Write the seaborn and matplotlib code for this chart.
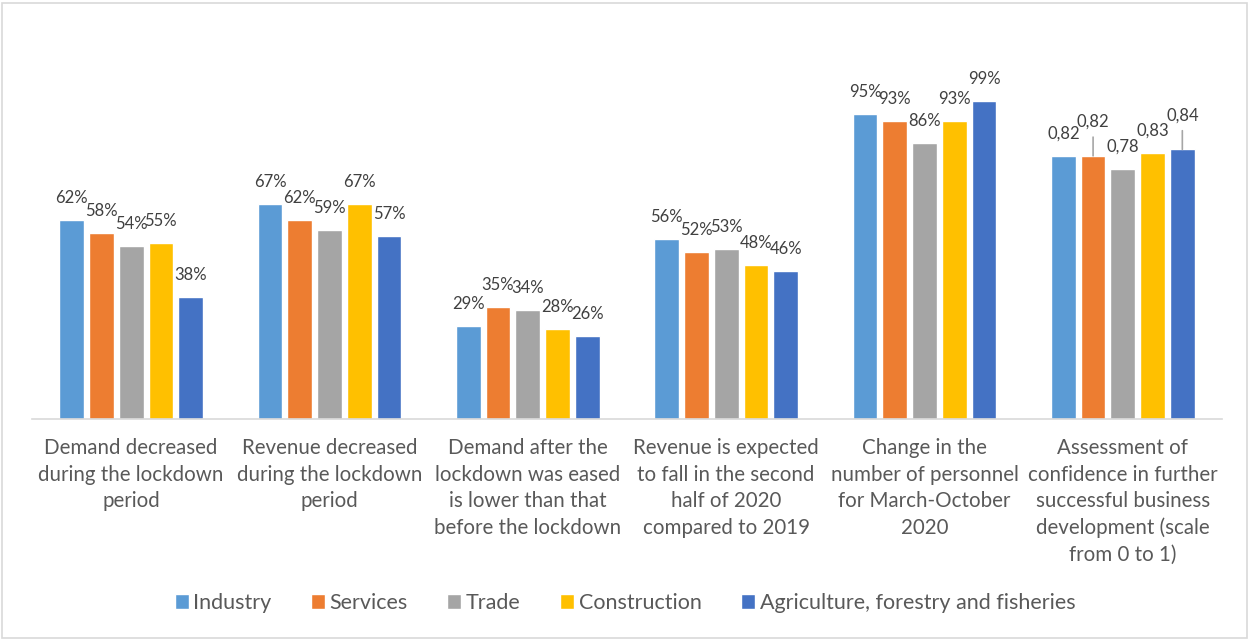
import matplotlib
matplotlib.use("Agg")
import matplotlib.pyplot as plt
from matplotlib.patches import Rectangle
import seaborn as sns
import pandas as pd

# --- data -----------------------------------------------------------------
categories = [
    "Demand decreased\nduring the lockdown\nperiod",
    "Revenue decreased\nduring the lockdown\nperiod",
    "Demand after the\nlockdown was eased\nis lower than that\nbefore the lockdown",
    "Revenue is expected\nto fall in the second\nhalf of 2020\ncompared to 2019",
    "Change in the\nnumber of personnel\nfor March-October\n2020",
    "Assessment of\nconfidence in further\nsuccessful business\ndevelopment (scale\nfrom 0 to 1)",
]
sectors = ["Industry", "Services", "Trade", "Construction",
           "Agriculture, forestry and fisheries"]

industry = [0.62, 0.67, 0.29, 0.56, 0.95, 0.82]
services = [0.58, 0.62, 0.35, 0.52, 0.93, 0.82]
trade = [0.54, 0.59, 0.34, 0.53, 0.86, 0.78]
construction = [0.55, 0.67, 0.28, 0.48, 0.93, 0.83]
agriculture = [0.38, 0.57, 0.26, 0.46, 0.99, 0.84]

# the last indicator is a 0..1 score, the others are shares
score_category = categories[-1]

colors = ["#5B9BD5", "#ED7D31", "#A5A5A5", "#FFC000", "#4472C4"]

series = [industry, services, trade, construction, agriculture]
df = pd.DataFrame(
    [(c, s, v) for s, vals in zip(sectors, series) for c, v in zip(categories, vals)],
    columns=["category", "sector", "value"],
)

# --- figure -----------------------------------------------------------------
sns.set_theme(style="white")
plt.rcParams["font.family"] = ["Lato", "DejaVu Sans"]

fig = plt.figure(figsize=(12.5, 6.41), dpi=100)
ax = fig.add_axes([32 / 1250, 1 - 419 / 641, 1190 / 1250, (419 - 66) / 641])

sns.barplot(data=df, x="category", y="value", hue="sector", order=categories,
            hue_order=sectors, palette=colors, width=0.75, gap=0.17,
            saturation=1, ax=ax, legend=True)

ax.set_ylim(0, 1.1)
ax.set_xlim(-0.5, len(categories) - 0.5)
ax.set_xlabel("")
ax.set_ylabel("")
ax.set_yticks([])
for side in ["top", "right", "left"]:
    ax.spines[side].set_visible(False)
ax.spines["bottom"].set_color("#D9D9D9")
ax.spines["bottom"].set_linewidth(1.2)
ax.tick_params(axis="x", length=0, pad=14)
for lab in ax.get_xticklabels():
    lab.set_fontsize(14.8)
    lab.set_color("#595959")
    lab.set_linespacing(1.4)

# value labels
lifted = {(score_category, "Services"), (score_category, sectors[-1])}
for container, sector in zip(ax.containers, sectors):
    for bar, cat, val in zip(container, categories, df[df.sector == sector].value):
        x = bar.get_x() + bar.get_width() / 2
        top = bar.get_height()
        if cat == score_category:
            text = f"{val:.2f}".replace(".", ",")
        else:
            text = f"{round(val * 100):d}%"
        extra = 8.5 if (cat, sector) in lifted else 0
        ax.annotate(text, (x, top), xytext=(0, 12.2 + extra),
                    textcoords="offset points", ha="center", va="baseline",
                    fontsize=12, color="#404040")
        if extra:
            ax.annotate("", (x, top), xytext=(0, 13.5),
                        textcoords="offset points",
                        arrowprops=dict(arrowstyle="-", color="#A6A6A6", lw=1.2,
                                        shrinkA=0, shrinkB=0))

# legend below the plot
handles, labels = ax.get_legend_handles_labels()
ax.get_legend().remove()
fig.legend(handles, labels, loc="center", bbox_to_anchor=(0.5, 1 - 603 / 641),
           ncol=5, frameon=False, fontsize=15.5, handlelength=0.65,
           handleheight=0.65, handletextpad=0.2, columnspacing=1.85,
           labelcolor="#595959")

# chart frame
fig.patches.append(Rectangle((2 / 1250, 3 / 641), 1245 / 1250, 635 / 641,
                             transform=fig.transFigure, fill=False,
                             edgecolor="#D9D9D9", linewidth=1.2))

fig.savefig("out.png", dpi=100)
